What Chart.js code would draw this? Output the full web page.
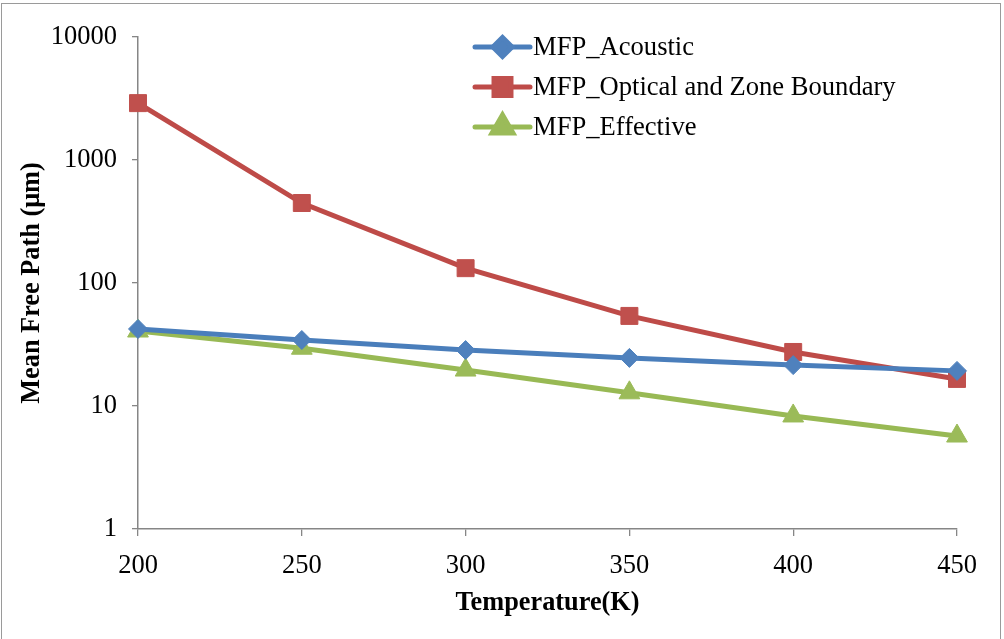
<!DOCTYPE html>
<html>
<head>
<meta charset="utf-8">
<script src="https://cdn.jsdelivr.net/npm/chart.js@4/dist/chart.umd.min.js"></script>
<style>
  html, body { margin:0; padding:0; background:#fff; }
  #wrap { position:relative; width:1004px; height:639px; }
  #frame { position:absolute; left:1px; top:3px; width:1000px; height:640px; border:1px solid #9a9a9a; box-sizing:border-box; pointer-events:none; }
</style>
</head>
<body>
<div id="wrap">
  <canvas id="chart"></canvas>
  <div id="frame"></div>
</div>
<script>
// ===== Data =====
const temps = ["200","250","300","350","400","450"];
const mfpAcoustic = [42.3, 34.4, 28.5, 24.6, 21.5, 19.3];
const mfpOptical  = [2900, 447, 132, 54, 27.5, 16.6];
const mfpEffective = [40.7, 29.5, 19.6, 12.8, 8.3, 5.7];
const yTicks = [1, 10, 100, 1000, 10000];

const FONT = "'Liberation Serif', 'Times New Roman', serif";
const AXIS_GREY = "#868686";

// legend drawn inside the plot, line + marker like the original
const insideLegend = {
  id: "insideLegend",
  afterDraw(chart){
    const ctx = chart.ctx;
    const x0 = 475, x1 = 530, tx = 533;
    const ys = [47, 87, 127];
    chart.data.datasets.forEach((ds, i)=>{
      const y = ys[i];
      ctx.save();
      ctx.strokeStyle = ds.borderColor;
      ctx.lineWidth = ds.borderWidth;
      ctx.lineCap = "round";
      ctx.beginPath(); ctx.moveTo(x0, y); ctx.lineTo(x1, y); ctx.stroke();
      ctx.fillStyle = ds.pointBackgroundColor;
      ctx.strokeStyle = ds.pointBorderColor;
      Chart.helpers.drawPoint(ctx, { pointStyle: ds.pointStyle, radius: ds.pointRadius, rotation: 0, borderWidth: 1 }, (x0+x1)/2, y);
      ctx.fillStyle = "#000";
      ctx.font = `26.6px ${FONT}`;
      ctx.textBaseline = "middle";
      ctx.textAlign = "left";
      ctx.fillText(ds.label, tx, y+1);
      ctx.restore();
    });
  }
};

function series(label, data, line, fill, style, radius){
  return {
    label, data,
    borderColor: line, borderWidth: 5,
    pointStyle: style, pointRadius: radius, pointHoverRadius: radius,
    pointBackgroundColor: fill, pointBorderColor: fill, pointBorderWidth: 1,
    tension: 0, clip: false
  };
}

new Chart(document.getElementById("chart"), {
  type: "line",
  data: {
    labels: temps,
    datasets: [
      series("MFP_Acoustic", mfpAcoustic, "#4A7EBB", "#4F81BD", "rectRot", 9.5),
      series("MFP_Optical and Zone Boundary", mfpOptical, "#BE4B48", "#C0504D", "rect", 12),
      series("MFP_Effective", mfpEffective, "#98B954", "#9BBB59", "triangle", 12)
    ]
  },
  options: {
    responsive: true,
    maintainAspectRatio: false,
    animation: false,
    layout: { padding: { top: 37, right: 47, bottom: 0, left: 0 } },
    plugins: { legend: { display:false }, tooltip: { enabled:false } },
    scales: {
      x: {
        type: "category",
        offset: false,
        grid: { display:true, offset:false, drawOnChartArea:false, drawTicks:true, tickLength:7, color:AXIS_GREY, lineWidth:1.3 },
        border: { display:true, color:AXIS_GREY, width:1.5 },
        ticks: { color:"#000", font:{ family:FONT, size:26.5 }, padding:14, maxRotation:0, autoSkip:false },
        title: { display:true, text:"Temperature(K)", color:"#000", font:{ family:FONT, size:26.3, weight:"bold" }, padding:{ top:0, bottom:20 } },
        afterFit(scale){ scale.height = 110; }
      },
      y: {
        type: "logarithmic",
        min: 1, max: 10000,
        afterBuildTicks(scale){ scale.ticks = yTicks.map(v=>({ value:v })); },
        grid: { display:true, drawOnChartArea:false, drawTicks:true, tickLength:6, color:AXIS_GREY, lineWidth:1.3 },
        border: { display:true, color:AXIS_GREY, width:1.5 },
        ticks: { color:"#000", font:{ family:FONT, size:26.5 }, padding:15, callback:v=>String(v) },
        title: { display:true, text:"Mean Free Path (μm)", color:"#000", font:{ family:FONT, size:26.3, weight:"bold" }, padding:{ top:16, bottom:0 } },
        afterFit(scale){ scale.width = 138; }
      }
    }
  },
  plugins: [insideLegend]
});
</script>
</body>
</html>
